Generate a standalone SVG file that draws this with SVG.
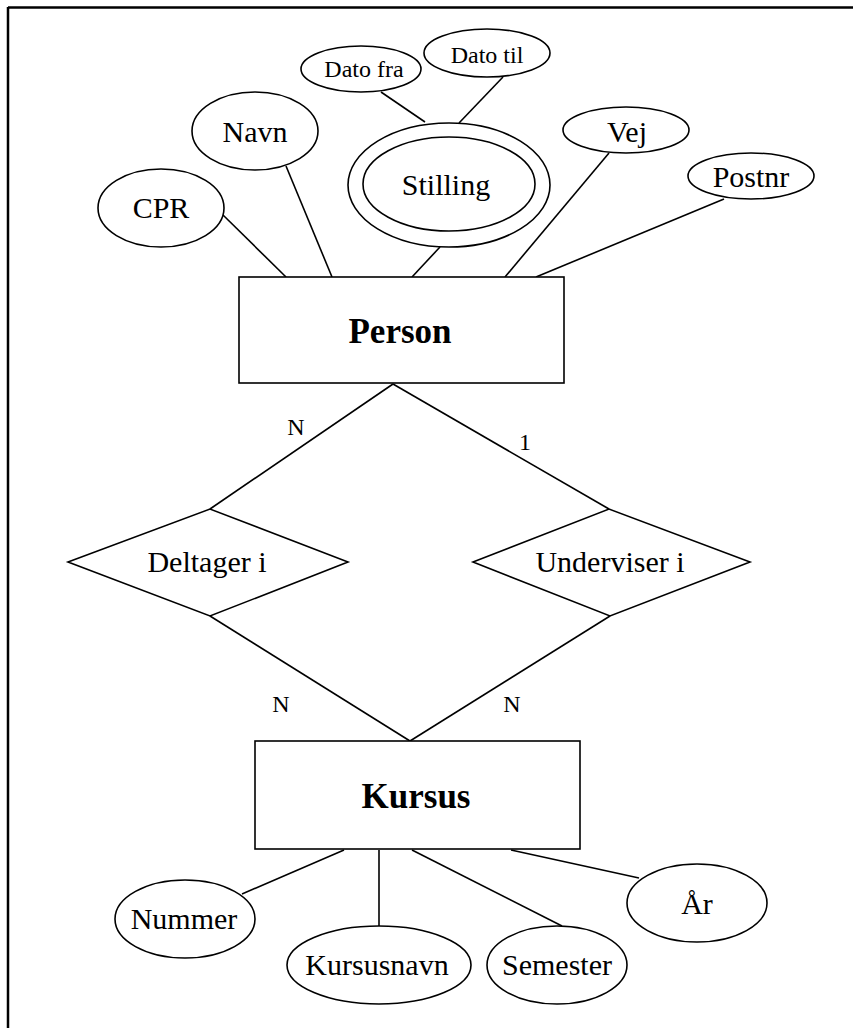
<svg xmlns="http://www.w3.org/2000/svg" width="853" height="1028" viewBox="0 0 853 1028">
<style>
.s{fill:none;stroke:#000;stroke-width:1.6}
.n{fill:#fff;stroke:#000;stroke-width:1.6}
.t{font-family:"Liberation Serif","Times New Roman",serif;font-size:30px;fill:#000;text-anchor:middle}
.sm{font-size:24px}
.b{font-weight:bold;font-size:35px}
</style>
<rect width="853" height="1028" fill="#fff"/>
<g id="frame">
<line x1="8" y1="7.5" x2="853" y2="7.5" stroke="#000" stroke-width="2.5"/>
<line x1="8" y1="7" x2="8" y2="1028" stroke="#000" stroke-width="2.5"/>
</g>
<g id="connectors" class="s">
<line x1="223" y1="215" x2="286" y2="277"/>
<line x1="286" y1="166" x2="332" y2="277"/>
<line x1="440" y1="247" x2="412" y2="277"/>
<line x1="609" y1="153" x2="505" y2="277"/>
<line x1="724" y1="199" x2="536" y2="277"/>
<line x1="381" y1="92" x2="425" y2="122"/>
<line x1="503" y1="77" x2="459" y2="123"/>
<line x1="393" y1="384" x2="210" y2="509"/>
<line x1="393" y1="384" x2="609" y2="509"/>
<line x1="210" y1="616" x2="410" y2="741"/>
<line x1="610" y1="616" x2="410" y2="741"/>
<line x1="344" y1="850" x2="242" y2="894"/>
<line x1="379" y1="850" x2="379" y2="926"/>
<line x1="412" y1="850" x2="562" y2="926"/>
<line x1="511" y1="850" x2="639" y2="878"/>
</g>
<g id="person"><rect class="n" x="239" y="277" width="325" height="106"/><text class="t b" x="400" y="343">Person</text></g>
<g id="kursus"><rect class="n" x="255" y="741" width="325" height="108"/><text class="t b" x="416" y="808">Kursus</text></g>
<g id="cpr"><ellipse class="n" cx="161" cy="208" rx="63" ry="39"/><text class="t" x="161" y="218">CPR</text></g>
<g id="navn"><ellipse class="n" cx="255" cy="131" rx="63" ry="39"/><text class="t" x="255" y="142">Navn</text></g>
<g id="stilling"><ellipse class="n" cx="449" cy="185" rx="101" ry="62"/><ellipse class="n" cx="449" cy="184" rx="86" ry="47"/><text class="t" x="446" y="195">Stilling</text></g>
<g id="datofra"><ellipse class="n" cx="361" cy="69" rx="60" ry="23"/><text class="t sm" x="364" y="77">Dato fra</text></g>
<g id="datotil"><ellipse class="n" cx="487" cy="53" rx="63" ry="24"/><text class="t sm" x="487" y="63">Dato til</text></g>
<g id="vej"><ellipse class="n" cx="626" cy="130" rx="63" ry="23"/><text class="t" x="627" y="142">Vej</text></g>
<g id="postnr"><ellipse class="n" cx="751" cy="176" rx="63" ry="23"/><text class="t" x="751" y="187">Postnr</text></g>
<g id="deltager"><polygon class="n" points="68,562 210,509 348,562 210,616"/><text class="t" x="207" y="572">Deltager i</text></g>
<g id="underviser"><polygon class="n" points="473,562 609,509 750,562 610,616"/><text class="t" x="610" y="572">Underviser i</text></g>
<g id="labels">
<text class="t sm" x="296" y="435">N</text>
<text class="t sm" x="525" y="450">1</text>
<text class="t sm" x="281" y="712">N</text>
<text class="t sm" x="512" y="712">N</text>
</g>
<g id="nummer"><ellipse class="n" cx="185" cy="919" rx="70" ry="39"/><text class="t" x="184" y="929">Nummer</text></g>
<g id="kursusnavn"><ellipse class="n" cx="379" cy="965" rx="92" ry="39"/><text class="t" x="377" y="975">Kursusnavn</text></g>
<g id="semester"><ellipse class="n" cx="557" cy="965" rx="70" ry="39"/><text class="t" x="557" y="975">Semester</text></g>
<g id="aar"><ellipse class="n" cx="697" cy="903" rx="70" ry="39"/><text class="t" x="697" y="914">År</text></g>
</svg>
